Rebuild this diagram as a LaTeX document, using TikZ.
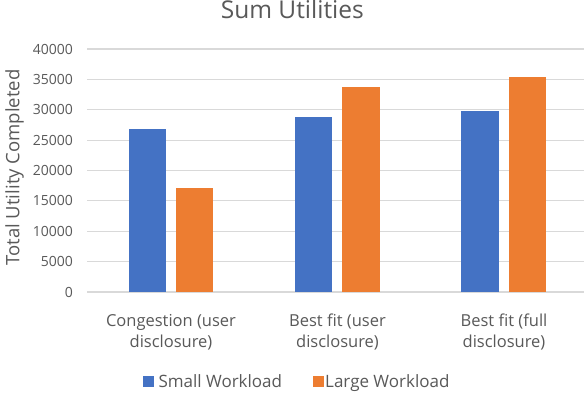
\documentclass[tikz,border=0pt]{standalone}
\usepackage{fontspec}
\setmainfont{Open Sans}
\definecolor{txt}{HTML}{595959}
\definecolor{grid}{HTML}{D9D9D9}
\definecolor{cblue}{HTML}{4472C4}
\definecolor{corange}{HTML}{ED7D31}
\begin{document}
\begin{tikzpicture}[x=1pt,y=-1pt,
  gridline/.style={draw=grid,line width=1.2pt},
  tick/.style={anchor=east,text=txt,font=\fontsize{14}{14}\selectfont,inner sep=0pt},
  cat/.style={align=center,anchor=base,text=txt,font=\fontsize{16.5}{21}\selectfont,inner sep=0pt},
  barS/.style={fill=cblue,draw=none},
  barL/.style={fill=corange,draw=none},
  legtext/.style={anchor=base west,text=txt,font=\fontsize{17}{17}\selectfont,inner sep=0pt},
  legbox/.style={minimum size=10.5pt,inner sep=0pt,draw=none}]
\useasboundingbox[fill=white] (0,0) rectangle (584,396);
% grid (values in thousands)
\foreach \v/\n in {0/0,5/5000,10/10000,15/15000,20/20000,25/25000,30/30000,35/35000,40/40000}{
  \draw[gridline] (87,{292-\v*6.075}) -- (584,{292-\v*6.075});
  \node[tick] (t\n) at (73,{292-\v*6.075}) {\n};
}
% bars
\path[barS] (128.5,292) rectangle (165.8,{292-26.78*6.075});
\path[barL] (175.6,292) rectangle (212.9,{292-17.17*6.075});
\path[barS] (295.0,292) rectangle (332.3,{292-28.86*6.075});
\path[barL] (342.3,292) rectangle (379.6,{292-33.70*6.075});
\path[barS] (461.3,292) rectangle (498.6,{292-29.74*6.075});
\path[barL] (508.7,292) rectangle (546.0,{292-35.34*6.075});
% title
\node[text=txt,font=\fontsize{24.5}{24.5}\selectfont,anchor=base,inner sep=0pt] (title) at (292.3,18.5) {Sum Utilities};
% axis title
\node[text=txt,font=\fontsize{18.5}{18.5}\selectfont,rotate=90,anchor=base,inner sep=0pt] (ytitle) at (19.5,167.5) {Total Utility Completed};
% categories (anchor base = baseline of second line)
\node[cat] (c1) at (171,347) {Congestion (user\\disclosure)};
\node[cat] (c2) at (337.5,347) {Best fit (user\\disclosure)};
\node[cat] (c3) at (504,347) {Best fit (full\\disclosure)};
% legend
\node[legbox,fill=cblue] (lb1) at (148.4,381.7) {};
\node[legtext] (lt1) at (158.3,387.3) {Small Workload};
\node[legbox,fill=corange] (lb2) at (318.3,381.7) {};
\node[legtext] (lt2) at (325,387.3) {Large Workload};
\end{tikzpicture}
\end{document}
